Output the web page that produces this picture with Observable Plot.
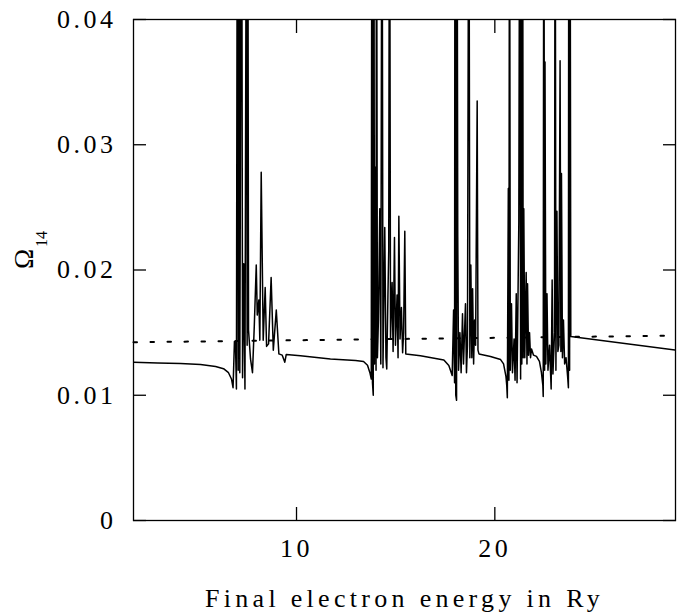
<!DOCTYPE html>
<html><head><meta charset="utf-8">
<script src="https://cdn.jsdelivr.net/npm/d3@7"></script>
<script src="https://cdn.jsdelivr.net/npm/@observablehq/plot@0.6"></script>
<style>
body{margin:0;background:#fff}
g[aria-label="x-axis tick label"] text, g[aria-label="y-axis tick label"] text { letter-spacing: 3.5px; }
g.xtitle text { letter-spacing: 4.3px; }
</style>
</head><body><div id="chart"></div>
<script>
// Solid curve: collision strength Omega_14 vs final electron energy (Ry)
const energy = [
  1.78, 3.00, 4.15, 5.16, 5.92, 6.32, 6.57, 6.72, 6.80,
  6.87, 6.92, 6.97, 7.02, 7.06, 7.10, 7.14, 7.23, 7.28, 7.34, 7.40, 7.48, 7.51, 7.54, 7.58,
  7.68, 7.78, 7.87, 7.97, 8.02, 8.10, 8.15, 8.22, 8.32, 8.42, 8.49, 8.59, 8.72, 8.83, 8.98,
  9.11, 9.28, 9.41, 9.48,
  10.20, 11.71, 12.98, 13.38, 13.58, 13.70, 13.77,
  13.80, 13.83, 13.87, 13.90, 13.93, 13.97, 14.01, 14.03, 14.08, 14.13, 14.20, 14.25, 14.31,
  14.36, 14.45, 14.51, 14.55, 14.61, 14.65, 14.69, 14.74, 14.82, 14.87, 14.94, 14.99, 15.07,
  15.12, 15.16, 15.22, 15.29, 15.35, 15.40, 15.46, 15.51,
  16.25, 17.43, 17.68, 17.85,
  17.92, 17.97, 17.99, 18.03, 18.07, 18.09, 18.13, 18.17, 18.24, 18.30, 18.37, 18.42, 18.52,
  18.57, 18.62, 18.69, 18.74, 18.79, 18.84, 18.88, 18.93, 18.98, 19.03, 19.11, 19.15, 19.20,
  19.78, 20.29, 20.44, 20.56, 20.60, 20.63,
  20.68, 20.71, 20.74, 20.78, 20.84, 20.89, 20.97, 21.02, 21.08, 21.12, 21.21, 21.26, 21.30,
  21.33, 21.36, 21.40, 21.43, 21.46, 21.51, 21.58, 21.62, 21.65, 21.70, 21.75, 21.80, 21.85, 21.95,
  22.10, 22.25, 22.35, 22.42, 22.44,
  22.47, 22.51, 22.53, 22.57, 22.63, 22.68, 22.76, 22.84, 22.89, 22.93, 23.01, 23.04, 23.08,
  23.13, 23.18, 23.23, 23.29, 23.33, 23.36, 23.41, 23.46, 23.52, 23.59, 23.67, 23.71, 23.73,
  23.77, 23.79, 23.83,
  29.11
];
const omega = [
  0.01264, 0.01258, 0.01253, 0.01245, 0.01230, 0.01212, 0.01180, 0.01130, 0.01060,
  0.0143, 0.0143, 0.0105, 0.06, 0.0120, 0.06, 0.0118, 0.06, 0.0114, 0.0205, 0.0105, 0.06, 0.0140, 0.06, 0.0152,
  0.0129, 0.0118, 0.0155, 0.0204, 0.0164, 0.0176, 0.0144, 0.0278, 0.0144, 0.0186, 0.0139, 0.0141, 0.0194, 0.0136, 0.0168,
  0.0133, 0.0132, 0.01264, 0.01325,
  0.01315, 0.01290, 0.01278, 0.01270, 0.01240, 0.01180, 0.01130,
  0.06, 0.0110, 0.0100, 0.06, 0.0125, 0.0282, 0.0120, 0.06, 0.0130, 0.0160, 0.0249, 0.0125, 0.06,
  0.0122, 0.0234, 0.0130, 0.0121, 0.0180, 0.0215, 0.06, 0.0145, 0.0190, 0.0135, 0.0226, 0.0140, 0.0180,
  0.0130, 0.0243, 0.0145, 0.0170, 0.0134, 0.0150, 0.0231, 0.0133,
  0.01315, 0.01282, 0.01237, 0.01157,
  0.0168, 0.0110, 0.06, 0.0100, 0.0096, 0.06, 0.0227, 0.0120, 0.0150, 0.0118, 0.0165, 0.0125, 0.0173,
  0.0118, 0.0140, 0.06, 0.0130, 0.0204, 0.0130, 0.0185, 0.0125, 0.0160, 0.0140, 0.0335, 0.0136, 0.0133,
  0.0131, 0.01285, 0.0125, 0.0115, 0.0108, 0.0098,
  0.0265, 0.0112, 0.06, 0.0120, 0.0173, 0.0118, 0.0145, 0.0112, 0.0181, 0.0110, 0.0239, 0.06, 0.0113,
  0.06, 0.0125, 0.06, 0.0130, 0.0249, 0.0130, 0.0198, 0.0125, 0.0189, 0.0132, 0.0150, 0.0130, 0.0137, 0.0132,
  0.0131, 0.0127, 0.0118, 0.0108, 0.0099,
  0.06, 0.0120, 0.0366, 0.0125, 0.0181, 0.0120, 0.0140, 0.0105, 0.0192, 0.0117, 0.0150, 0.06, 0.0120,
  0.0247, 0.0135, 0.0140, 0.0367, 0.0135, 0.0277, 0.0130, 0.0160, 0.0125, 0.0130, 0.0115, 0.0106, 0.06,
  0.0120, 0.06, 0.0147,
  0.0136
];
// Dotted curve
const refEnergy = [1.78, 12.98, 29.11];
const refOmega = [0.01423, 0.01445, 0.01476];

const xTicks = [10, 20];
const yTicks = [0, 0.01, 0.02, 0.03, 0.04];
const yTickLabels = ["0", "0.01", "0.02", "0.03", "0.04"];
const xLabel = "Final electron energy in Ry";
const yLabelMain = "\u03A9";
const yLabelSub = "14";

const solid = energy.map((e, i) => ({e, v: omega[i]}));
const dotted = refEnergy.map((e, i) => ({e, v: refOmega[i]}));

const serif = "'Liberation Serif', 'Times New Roman', serif";

const chart = Plot.plot({
  width: 690, height: 616,
  marginLeft: 133, marginRight: 15, marginTop: 19, marginBottom: 96,
  style: {fontFamily: serif, fontSize: "26px", background: "#fff", color: "#000", overflow: "visible"},
  x: {domain: [1.78, 29.11], label: null, axis: null},
  y: {domain: [0, 0.04], label: null, axis: null},
  marks: [
    Plot.line(dotted, {x: "e", y: "v", stroke: "#000", strokeWidth: 2, strokeDasharray: "3.5,13.5"}),
    Plot.line(solid, {x: "e", y: "v", stroke: "#000", strokeWidth: 1.5, clip: true}),
    Plot.frame({stroke: "#000", strokeWidth: 1.3}),
    // inward ticks on all four sides
    Plot.axisX(xTicks, {anchor: "bottom", tickSize: -13, fill: "none", strokeWidth: 1.3, label: null}),
    Plot.axisX(xTicks, {anchor: "top", tickSize: -13, fill: "none", strokeWidth: 1.3, label: null}),
    Plot.axisY(yTicks, {anchor: "left", tickSize: -13, fill: "none", strokeWidth: 1.3, label: null}),
    Plot.axisY(yTicks, {anchor: "right", tickSize: -13, fill: "none", strokeWidth: 1.3, label: null}),
    // tick labels
    Plot.axisX(xTicks, {anchor: "bottom", tickSize: 0, tickPadding: 18, fontSize: 26, label: null}),
    Plot.axisY(yTicks, {anchor: "left", tickSize: 0, tickPadding: 17, fontSize: 26, label: null,
      tickFormat: d => yTickLabels[yTicks.indexOf(d)]}),
    // axis titles
    Plot.text([xLabel], {text: d => d, frameAnchor: "bottom", dy: 78, lineAnchor: "middle", fontSize: 26,
      className: "xtitle"}),
    Plot.text([yLabelMain], {text: d => d, frameAnchor: "left", dx: -109, dy: -1, rotate: -90,
      lineAnchor: "middle", fontSize: 27}),
    Plot.text([yLabelSub], {text: d => d, frameAnchor: "left", dx: -92, dy: -23, rotate: -90,
      lineAnchor: "middle", fontSize: 16})
  ]
});
document.getElementById("chart").appendChild(chart);
</script>
</body></html>
